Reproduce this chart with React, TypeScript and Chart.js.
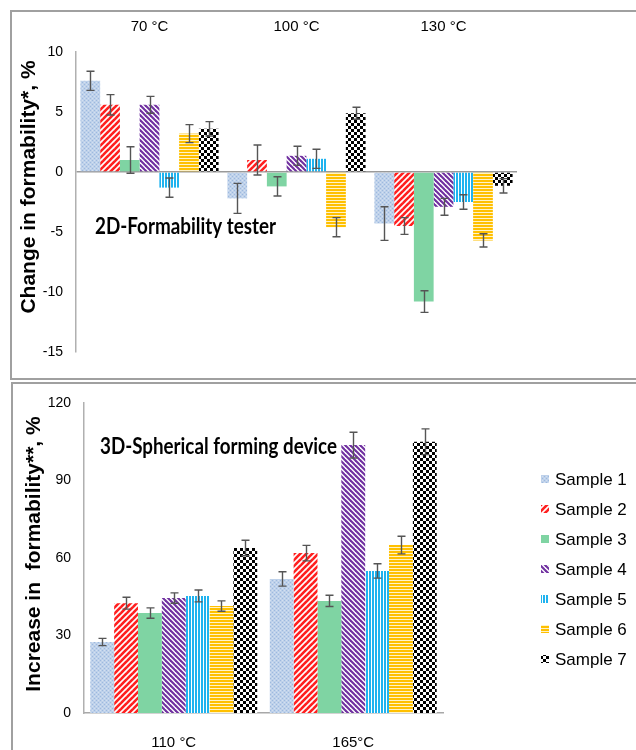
import React, { useEffect, useRef } from "react";
import { Chart, registerables } from "chart.js";
Chart.register(...registerables);

// ---------- data ----------
const topCategories = ["70 °C", "100 °C", "130 °C"];
const bottomCategories = ["110 °C", "165°C"];
const sampleNames = ["Sample 1", "Sample 2", "Sample 3", "Sample 4", "Sample 5", "Sample 6", "Sample 7"];

// 2D-Formability tester (change in formability, %)
const top1 = [7.6, -2.2, -4.3];
const top2 = [5.6, 1.0, -4.5];
const top3 = [1.0, -1.2, -10.8];
const top4 = [5.6, 1.35, -2.9];
const top5 = [-1.3, 1.1, -2.5];
const top6 = [3.2, -4.6, -5.7];
const top7 = [3.6, 4.9, -1.15];
const topErr1 = [0.8, 1.25, 1.4];
const topErr2 = [0.85, 1.25, 0.7];
const topErr3 = [1.1, 0.8, 0.9];
const topErr4 = [0.7, 0.8, 0.7];
const topErr5 = [0.8, 0.8, 0.6];
const topErr6 = [0.75, 0.8, 0.55];
const topErr7 = [0.6, 0.5, 0.6];

// 3D-Spherical forming device (increase in formability, %)
const bot1 = [27.5, 51.9];
const bot2 = [42.5, 61.9];
const bot3 = [38.7, 43.4];
const bot4 = [44.5, 103.7];
const bot5 = [45.3, 55.0];
const bot6 = [41.4, 65.0];
const bot7 = [63.9, 105.0];
const botErr1 = [1.4, 2.8];
const botErr2 = [2.3, 3.0];
const botErr3 = [2.0, 2.2];
const botErr4 = [2.0, 5.0];
const botErr5 = [2.3, 2.8];
const botErr6 = [2.0, 3.4];
const botErr7 = [3.0, 5.0];

const topTicks = [-15, -10, -5, 0, 5, 10];
const botTicks = [0, 30, 60, 90, 120];

const topValues = [top1, top2, top3, top4, top5, top6, top7];
const topErrors = [topErr1, topErr2, topErr3, topErr4, topErr5, topErr6, topErr7];
const botValues = [bot1, bot2, bot3, bot4, bot5, bot6, bot7];
const botErrors = [botErr1, botErr2, botErr3, botErr4, botErr5, botErr6, botErr7];

// ---------- patterns ----------
function makePattern(kind: number): CanvasPattern | string {
  const c = document.createElement("canvas");
  const ctx = c.getContext("2d")!;
  if (kind === 0) {
    c.width = 4; c.height = 4;
    ctx.fillStyle = "#bed1ea"; ctx.fillRect(0, 0, 4, 4);
    ctx.fillStyle = "#9db9df";
    ctx.fillRect(0, 0, 1, 1); ctx.fillRect(2, 2, 1, 1);
    ctx.fillStyle = "#d3e0f1";
    ctx.fillRect(2, 0, 1, 1); ctx.fillRect(0, 2, 1, 1);
  } else if (kind === 1 || kind === 3) {
    const s = kind === 1 ? 6 : 5;
    c.width = s; c.height = s;
    ctx.fillStyle = "#ffffff"; ctx.fillRect(0, 0, s, s);
    ctx.strokeStyle = kind === 1 ? "#ff1f1f" : "#7030a0";
    ctx.lineWidth = kind === 1 ? 2.6 : 2.1;
    for (let k = -1; k <= 1; k++) {
      ctx.beginPath();
      if (kind === 1) { ctx.moveTo(-s + k * s, s * 2); ctx.lineTo(s * 2 + k * s, -s); }
      else { ctx.moveTo(-s + k * s, -s); ctx.lineTo(s * 2 + k * s, s * 2); }
      ctx.stroke();
    }
  } else if (kind === 2) {
    return "#7fd4a3";
  } else if (kind === 4) {
    c.width = 3; c.height = 3;
    ctx.fillStyle = "#ffffff"; ctx.fillRect(0, 0, 3, 3);
    ctx.fillStyle = "#1fb3ef"; ctx.fillRect(0, 0, 2, 3);
  } else if (kind === 5) {
    c.width = 3; c.height = 3;
    ctx.fillStyle = "#fff3c8"; ctx.fillRect(0, 0, 3, 3);
    ctx.fillStyle = "#ffc000"; ctx.fillRect(0, 0, 3, 2);
  } else {
    c.width = 6; c.height = 6;
    ctx.fillStyle = "#ffffff"; ctx.fillRect(0, 0, 6, 6);
    ctx.fillStyle = "#000000";
    ctx.fillRect(0, 0, 3, 3); ctx.fillRect(3, 3, 3, 3);
  }
  return ctx.createPattern(c, "repeat")!;
}

const tickFont = { family: "'Liberation Sans', Arial, sans-serif", size: 14 };
const catFont = { family: "'Liberation Sans', Arial, sans-serif", size: 15 };

function errorPlugin(errors: number[][], opts: any) {
  return {
    id: "custom",
    afterDatasetsDraw(chart: any) {
      const ctx = chart.ctx;
      const y = chart.scales.y;
      ctx.save();
      ctx.strokeStyle = "#555555";
      ctx.lineWidth = 1.4;
      chart.data.datasets.forEach((ds: any, di: number) => {
        const meta = chart.getDatasetMeta(di);
        meta.data.forEach((bar: any, i: number) => {
          const v = ds.data[i];
          const e = errors[di][i];
          const x = Math.round(bar.x) + 0.5;
          const y1 = y.getPixelForValue(v - e);
          const y2 = y.getPixelForValue(v + e);
          ctx.beginPath();
          ctx.moveTo(x, y1); ctx.lineTo(x, y2);
          ctx.moveTo(x - 4, y1); ctx.lineTo(x + 4, y1);
          ctx.moveTo(x - 4, y2); ctx.lineTo(x + 4, y2);
          ctx.stroke();
        });
      });
      ctx.restore();
    },
    afterDraw(chart: any) {
      const ctx = chart.ctx;
      ctx.save();
      // y title
      ctx.translate(opts.yTitleX, opts.yTitleY);
      ctx.rotate(-Math.PI / 2);
      ctx.fillStyle = "#000";
      ctx.font = "bold 21px 'Liberation Sans', Arial, sans-serif";
      ctx.textAlign = "center";
      ctx.textBaseline = "middle";
      ctx.fillText(opts.yTitle, 0, 0);
      ctx.restore();
      // panel label (Calibri-like, slightly condensed)
      ctx.save();
      ctx.fillStyle = "#000";
      ctx.font = "bold 22px Lato, 'Open Sans', sans-serif";
      ctx.textAlign = "left";
      ctx.textBaseline = "middle";
      const w = ctx.measureText(opts.label).width;
      ctx.translate(opts.labelX, opts.labelY);
      ctx.scale(opts.labelWidth / w, 1);
      ctx.fillText(opts.label, 0, 0);
      ctx.restore();
      if (opts.legend) {
        ctx.save();
        ctx.font = "17px 'Liberation Sans', Arial, sans-serif";
        ctx.textBaseline = "middle";
        chart.data.datasets.forEach((ds: any, i: number) => {
          const yy = opts.legendY + i * 30;
          ctx.fillStyle = ds.backgroundColor;
          ctx.fillRect(opts.legendX, yy - 4, 8, 8);
          ctx.fillStyle = "#000";
          ctx.fillText(ds.label, opts.legendX + 14, yy + 1);
        });
        ctx.restore();
      }
    },
  };
}

function TopChart() {
  const ref = useRef<HTMLCanvasElement>(null);
  useEffect(() => {
    const chart = new Chart(ref.current!, {
      type: "bar",
      data: {
        labels: topCategories,
        datasets: sampleNames.map((n, i) => ({
          label: n,
          data: topValues[i],
          backgroundColor: makePattern(i) as any,
          borderWidth: 0,
          categoryPercentage: 0.94,
          barPercentage: 1,
        })),
      },
      options: {
        animation: false,
        responsive: false,
        layout: { padding: { left: 0, right: 119, top: 0, bottom: 28 } },
        plugins: { legend: { display: false }, tooltip: { enabled: false } },
        scales: {
          x: {
            position: "top",
            grid: { display: false, drawTicks: false },
            border: { display: false },
            ticks: { font: catFont, color: "#000", padding: 16 },
            afterFit: (s: any) => { s.height = 52; },
          },
          y: {
            min: -15,
            max: 10,
            afterBuildTicks: (s: any) => { s.ticks = topTicks.map((v) => ({ value: v })); },
            ticks: { font: tickFont, color: "#000", padding: 13 },
            grid: {
              drawTicks: false,
              lineWidth: 1.5,
              color: (c: any) => (c.tick && c.tick.value === 0 ? "#9a9a9a" : "rgba(0,0,0,0)"),
            },
            border: { display: true, color: "#b0b0b0", width: 1.5 },
            afterFit: (s: any) => { s.width = 76; },
          },
        },
      } as any,
      plugins: [errorPlugin(topErrors, {
        yTitle: "Change in formability*, %", yTitleX: 29, yTitleY: 187,
        label: "2D-Formability tester", labelX: 95, labelY: 227, labelWidth: 181,
      })],
    });
    return () => chart.destroy();
  }, []);
  return <canvas ref={ref} width={636} height={380} style={{ position: "absolute", left: 0, top: 0 }} />;
}

function BottomChart() {
  const ref = useRef<HTMLCanvasElement>(null);
  useEffect(() => {
    const chart = new Chart(ref.current!, {
      type: "bar",
      data: {
        labels: bottomCategories,
        datasets: sampleNames.map((n, i) => ({
          label: n,
          data: botValues[i],
          backgroundColor: makePattern(i) as any,
          borderWidth: 0,
          categoryPercentage: 0.93,
          barPercentage: 1,
        })),
      },
      options: {
        animation: false,
        responsive: false,
        layout: { padding: { left: 0, right: 193, top: 23, bottom: 0 } },
        plugins: { legend: { display: false }, tooltip: { enabled: false } },
        scales: {
          x: {
            grid: { display: false, drawTicks: false },
            border: { display: true, color: "#a8a8a8", width: 1.5 },
            ticks: { font: catFont, color: "#000", padding: 21 },
            afterFit: (s: any) => { s.height = 37; },
          },
          y: {
            min: 0,
            max: 120,
            afterBuildTicks: (s: any) => { s.ticks = botTicks.map((v) => ({ value: v })); },
            ticks: { font: tickFont, color: "#000", padding: 13 },
            grid: { display: false, drawTicks: false },
            border: { display: true, color: "#b0b0b0", width: 1.5 },
            afterFit: (s: any) => { s.width = 84; },
          },
        },
      } as any,
      plugins: [errorPlugin(botErrors, {
        yTitle: "Increase in  formability**, %", yTitleX: 34, yTitleY: 174,
        label: "3D-Spherical forming device", labelX: 100, labelY: 67, labelWidth: 237,
        legend: true, legendX: 541, legendY: 99,
      })],
    });
    return () => chart.destroy();
  }, []);
  return <canvas ref={ref} width={636} height={370} style={{ position: "absolute", left: 0, top: 380 }} />;
}

export default function App() {
  return (
    <div style={{ position: "absolute", left: 0, top: 0, width: 636, height: 750, overflow: "hidden", background: "#fff" }}>
      <TopChart />
      <BottomChart />
      <div style={{ position: "absolute", left: 10, top: 10, width: 640, height: 366, border: "2px solid #a0a0a0", pointerEvents: "none" }} />
      <div style={{ position: "absolute", left: 11, top: 382, width: 640, height: 380, border: "2px solid #a0a0a0", pointerEvents: "none" }} />
    </div>
  );
}
